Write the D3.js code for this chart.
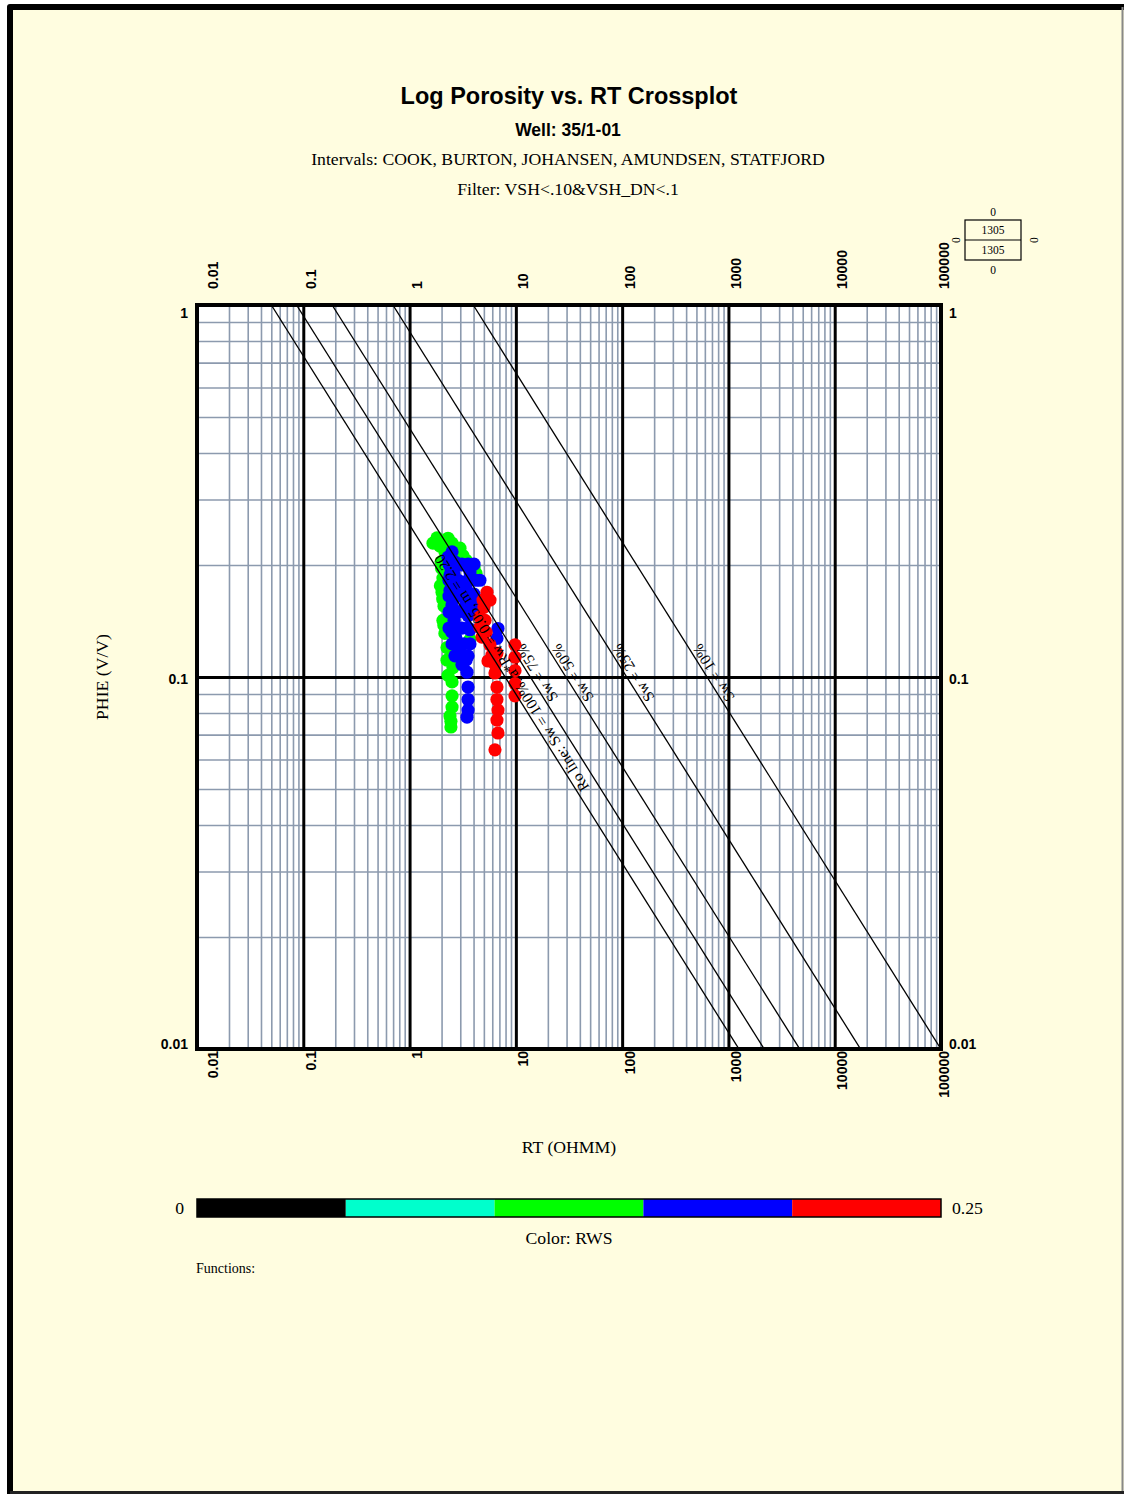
<!DOCTYPE html>
<html>
<head>
<meta charset="utf-8">
<script src="https://cdn.jsdelivr.net/npm/d3@7"></script>
<style>
  body { margin: 0; background: #fff; }
  svg { display: block; }
  .sans { font-family: "Liberation Sans", Arial, sans-serif; }
  .serif { font-family: "Liberation Serif", "Times New Roman", serif; }
</style>
</head>
<body>
<svg id="chart" width="1124" height="1494"></svg>
<script>
// ---- data ----
const xDecades = [0.01, 0.1, 1, 10, 100, 1000, 10000, 100000];
const yDecades = [0.01, 0.1, 1];
const xTickLabels = ["0.01", "0.1", "1", "10", "100", "1000", "10000", "100000"];
const yTickLabels = ["0.01", "0.1", "1"];

// Archie lines
const aRw = 0.05, mExp = 2.2, nExp = 1.9;
const swValues = [1.0, 0.75, 0.5, 0.25, 0.10];
const swLabels = ["Ro line: Sw = 100%, a*Rw = 0.05, m = 2.20", "Sw = 75%", "Sw = 50%", "Sw = 25%", "Sw = 10%"];

// colour bar (RWS)
const rwsBreaks = [0, 0.05, 0.10, 0.15, 0.20, 0.25];
const rwsColors = ["#000000", "#00FFCC", "#00FF00", "#0000FF", "#FF0000"];

// points, grouped by RWS colour class
const greenRWS = 0.12;
const greenRT = [1.66, 1.93, 2.30, 2.15, 2.73, 3.18, 3.70, 4.22, 1.98, 2.06, 2.02, 2.11, 2.06, 2.15, 2.25, 2.51, 2.56, 2.51, 2.51, 2.51, 2.40, 2.45, 2.45, 4.40, 4.40, 3.70, 1.80, 2.00,
  1.81, 2.51, 2.98, 3.40, 4.04, 2.25, 2.30, 1.95, 2.05, 2.10];
const greenPHIE = [0.229, 0.225, 0.236, 0.217, 0.218, 0.212, 0.200, 0.190, 0.204, 0.1845, 0.169, 0.155, 0.142, 0.131, 0.120, 0.111, 0.106, 0.097, 0.089, 0.083, 0.0785, 0.076, 0.0734, 0.161, 0.149, 0.126, 0.233, 0.196,
  0.2365, 0.229, 0.222, 0.206, 0.197, 0.111, 0.101, 0.176, 0.162, 0.138];

const blueRWS = 0.17;
const blueRT = [2.51, 2.67, 3.11, 3.70, 4.22, 2.40, 2.86, 3.40, 4.04, 2.40, 2.86, 3.40, 2.51, 2.98, 3.55, 2.62, 3.11, 3.70, 2.73, 3.25, 2.98, 3.40, 3.11, 3.47, 3.55, 3.55, 3.55, 3.47, 6.79, 6.64, 4.22, 4.12, 2.30, 2.45, 2.60, 2.95, 3.30, 2.50,
  2.35, 2.73, 3.11, 3.55, 4.04, 2.35, 3.55, 4.59, 2.35, 4.04, 2.35, 2.73, 3.55, 2.35, 2.73, 3.55, 2.51, 3.70, 2.67, 3.55];
const bluePHIE = [0.217, 0.204, 0.200, 0.1915, 0.182, 0.188, 0.182, 0.174, 0.167, 0.171, 0.165, 0.157, 0.156, 0.150, 0.146, 0.142, 0.1354, 0.134, 0.1273, 0.1227, 0.1168, 0.111, 0.108, 0.103, 0.094, 0.087, 0.0815, 0.078, 0.135, 0.127, 0.151, 0.161, 0.210, 0.196, 0.190, 0.176, 0.165, 0.132,
  0.201, 0.201, 0.201, 0.201, 0.201, 0.182, 0.182, 0.182, 0.165, 0.165, 0.1495, 0.1495, 0.1495, 0.1354, 0.1354, 0.1354, 0.1227, 0.1227, 0.114, 0.114];

const redRWS = 0.22;
const redRT = [5.35, 4.91, 5.01, 4.59, 4.59, 4.80, 5.71, 6.64, 5.47, 6.36, 6.36, 6.64, 6.64, 6.79, 6.64, 6.79, 6.36, 9.82, 9.82, 9.82, 9.82, 9.82,
  5.13, 5.71, 5.24, 5.96];
const redPHIE = [0.169, 0.161, 0.154, 0.145, 0.136, 0.128, 0.122, 0.116, 0.1104, 0.108, 0.1025, 0.094, 0.087, 0.0815, 0.0766, 0.0707, 0.0637, 0.122, 0.113, 0.104, 0.096, 0.089,
  0.142, 0.161, 0.132, 0.1145];

const legendTotal = "1305", legendShown = "1305";

// ---- layout ----
const W = 1124, H = 1494;
const plot = { left: 197, right: 941, top: 305, bottom: 1049 };
const serifSize = 17.7, tickSize = 14;
const svg = d3.select("#chart");

// page background and frame
svg.append("rect").attr("x", 0).attr("y", 0).attr("width", W).attr("height", H).attr("fill", "#fff");
svg.append("rect").attr("x", 10).attr("y", 7).attr("width", W - 10).attr("height", H - 7).attr("fill", "#FFFDE0");
svg.append("path").attr("d", `M10,${H} L10,7 L${W},7`).attr("fill", "none")
  .attr("stroke", "#000").attr("stroke-width", 6).attr("stroke-linejoin", "round");
svg.append("line").attr("x1", W - 1.5).attr("x2", W - 1.5).attr("y1", 7).attr("y2", H)
  .attr("stroke", "#888").attr("stroke-width", 2);
svg.append("line").attr("x1", 10).attr("x2", W).attr("y1", H - 1.5).attr("y2", H - 1.5)
  .attr("stroke", "#222").attr("stroke-width", 3);

// titles
svg.append("text").attr("class", "sans").attr("x", 569).attr("y", 104).attr("text-anchor", "middle")
  .attr("font-size", 23.5).attr("font-weight", "bold").text("Log Porosity vs. RT Crossplot");
svg.append("text").attr("class", "sans").attr("x", 568).attr("y", 136).attr("text-anchor", "middle")
  .attr("font-size", 17.5).attr("font-weight", "bold").text("Well: 35/1-01");
svg.append("text").attr("class", "serif").attr("x", 568).attr("y", 165).attr("text-anchor", "middle")
  .attr("font-size", serifSize).text("Intervals: COOK, BURTON, JOHANSEN, AMUNDSEN, STATFJORD");
svg.append("text").attr("class", "serif").attr("x", 568).attr("y", 195).attr("text-anchor", "middle")
  .attr("font-size", serifSize).text("Filter: VSH<.10&VSH_DN<.1");

// scales
const x = d3.scaleLog().domain([0.01, 100000]).range([plot.left, plot.right]);
const y = d3.scaleLog().domain([0.01, 1]).range([plot.bottom, plot.top]);

// plot background
svg.append("rect").attr("x", plot.left).attr("y", plot.top)
  .attr("width", plot.right - plot.left).attr("height", plot.bottom - plot.top).attr("fill", "#fff");

// minor grid values
const xMinor = [], yMinor = [];
xDecades.slice(0, -1).forEach(d => { for (let k = 2; k <= 9; k++) xMinor.push(d * k); });
yDecades.slice(0, -1).forEach(d => { for (let k = 2; k <= 9; k++) yMinor.push(d * k); });

const gridColor = "#8C9AAE";
svg.append("g").attr("transform", `translate(0,${plot.bottom})`)
  .call(d3.axisBottom(x).tickValues(xMinor).tickSize(-(plot.bottom - plot.top)).tickFormat(""))
  .call(g => g.select(".domain").remove())
  .call(g => g.selectAll("line").attr("stroke", gridColor).attr("stroke-width", 1.6));
svg.append("g").attr("transform", `translate(${plot.left},0)`)
  .call(d3.axisLeft(y).tickValues(yMinor).tickSize(-(plot.right - plot.left)).tickFormat(""))
  .call(g => g.select(".domain").remove())
  .call(g => g.selectAll("line").attr("stroke", gridColor).attr("stroke-width", 1.6));

// decade grid
svg.append("g").attr("transform", `translate(0,${plot.bottom})`)
  .call(d3.axisBottom(x).tickValues(xDecades).tickSize(-(plot.bottom - plot.top)).tickFormat(""))
  .call(g => g.select(".domain").remove())
  .call(g => g.selectAll("line").attr("stroke", "#000").attr("stroke-width", 3));
svg.append("g").attr("transform", `translate(${plot.left},0)`)
  .call(d3.axisLeft(y).tickValues(yDecades).tickSize(-(plot.right - plot.left)).tickFormat(""))
  .call(g => g.select(".domain").remove())
  .call(g => g.selectAll("line").attr("stroke", "#000").attr("stroke-width", 3));

svg.append("clipPath").attr("id", "plotClip").append("rect")
  .attr("x", plot.left).attr("y", plot.top)
  .attr("width", plot.right - plot.left).attr("height", plot.bottom - plot.top);

// points (under the Archie lines)
const color = d3.scaleThreshold().domain(rwsBreaks.slice(1, -1)).range(rwsColors);
const series = [
  { rws: greenRWS, rt: greenRT, phi: greenPHIE },
  { rws: blueRWS, rt: blueRT, phi: bluePHIE },
  { rws: redRWS, rt: redRT, phi: redPHIE }
];
const ptG = svg.append("g").attr("clip-path", "url(#plotClip)");
series.forEach(s => {
  ptG.append("g").selectAll("circle").data(s.rt.map((r, i) => [r, s.phi[i]])).join("circle")
    .attr("cx", d => x(d[0])).attr("cy", d => y(d[1])).attr("r", 6.6)
    .attr("fill", color(s.rws));
});

// Archie lines
const rtAt = (phi, sw) => aRw / (Math.pow(phi, mExp) * Math.pow(sw, nExp));
const lineG = svg.append("g").attr("clip-path", "url(#plotClip)");
lineG.selectAll("line.sw").data(swValues).join("line").attr("class", "sw")
  .attr("x1", d => x(rtAt(1, d))).attr("y1", y(1))
  .attr("x2", d => x(rtAt(0.001, d))).attr("y2", y(0.001))
  .attr("stroke", "#000").attr("stroke-width", 1.3);

const slopeAngle = Math.atan2(y(0.01) - y(1), x(rtAt(0.01, 1)) - x(rtAt(1, 1))) * 180 / Math.PI;
lineG.selectAll("text.swlab").data(swValues).join("text").attr("class", "swlab serif")
  .attr("transform", d => `translate(${x(rtAt(0.1, d))},${y(0.1)}) rotate(${slopeAngle + 180})`)
  .attr("text-anchor", "middle").attr("dy", 13).attr("font-size", 15.5)
  .text((d, i) => swLabels[i]);

// plot border
svg.append("rect").attr("x", plot.left).attr("y", plot.top)
  .attr("width", plot.right - plot.left).attr("height", plot.bottom - plot.top)
  .attr("fill", "none").attr("stroke", "#000").attr("stroke-width", 4);

// x tick labels (top and bottom), rotated
const xLabelShift = (d, i) => i === 0 ? 20 : (i === xDecades.length - 1 ? 7 : 12);
svg.append("g").attr("transform", `translate(0,${plot.top})`)
  .call(d3.axisTop(x).tickValues(xDecades).tickSize(0).tickFormat((d, i) => xTickLabels[i]))
  .call(g => g.select(".domain").remove())
  .call(g => g.selectAll("text").attr("class", "sans").attr("font-size", tickSize).attr("font-weight", "bold")
    .attr("fill", "#000").attr("x", 0).attr("y", 0).attr("dy", 0).attr("text-anchor", "start")
    .attr("transform", (d, i) => `translate(${xLabelShift(d, i)},-16) rotate(-90)`));
svg.append("g").attr("transform", `translate(0,${plot.bottom})`)
  .call(d3.axisBottom(x).tickValues(xDecades).tickSize(0).tickFormat((d, i) => xTickLabels[i]))
  .call(g => g.select(".domain").remove())
  .call(g => g.selectAll("text").attr("class", "sans").attr("font-size", tickSize).attr("font-weight", "bold")
    .attr("fill", "#000").attr("x", 0).attr("y", 0).attr("dy", 0).attr("text-anchor", "end")
    .attr("transform", (d, i) => `translate(${xLabelShift(d, i)},2) rotate(-90)`));

// y tick labels (left and right)
const yLabelShift = (d, i) => i === 0 ? -5 : (i === yDecades.length - 1 ? 8 : 2);
svg.append("g").attr("transform", `translate(${plot.left},0)`)
  .call(d3.axisLeft(y).tickValues(yDecades).tickSize(0).tickFormat((d, i) => yTickLabels[i]))
  .call(g => g.select(".domain").remove())
  .call(g => g.selectAll("text").attr("class", "sans").attr("font-size", tickSize).attr("font-weight", "bold")
    .attr("fill", "#000").attr("x", -9).attr("dy", "0.35em").attr("y", (d, i) => yLabelShift(d, i)));
svg.append("g").attr("transform", `translate(${plot.right},0)`)
  .call(d3.axisRight(y).tickValues(yDecades).tickSize(0).tickFormat((d, i) => yTickLabels[i]))
  .call(g => g.select(".domain").remove())
  .call(g => g.selectAll("text").attr("class", "sans").attr("font-size", tickSize).attr("font-weight", "bold")
    .attr("fill", "#000").attr("x", 8).attr("dy", "0.35em").attr("y", (d, i) => yLabelShift(d, i)));

// axis titles
svg.append("text").attr("class", "serif").attr("font-size", serifSize)
  .attr("transform", `translate(108,${(plot.top + plot.bottom) / 2}) rotate(-90)`)
  .attr("text-anchor", "middle").text("PHIE (V/V)");
svg.append("text").attr("class", "serif").attr("font-size", serifSize)
  .attr("x", (plot.left + plot.right) / 2).attr("y", 1153).attr("text-anchor", "middle").text("RT (OHMM)");

// colour bar
const cb = d3.scaleLinear().domain([0, 0.25]).range([plot.left, plot.right]);
const cbY = 1199, cbH = 18;
svg.append("g").selectAll("rect").data(rwsColors).join("rect")
  .attr("x", (d, i) => cb(rwsBreaks[i])).attr("y", cbY)
  .attr("width", (d, i) => cb(rwsBreaks[i + 1]) - cb(rwsBreaks[i])).attr("height", cbH)
  .attr("fill", d => d);
svg.append("rect").attr("x", plot.left).attr("y", cbY).attr("width", plot.right - plot.left).attr("height", cbH)
  .attr("fill", "none").attr("stroke", "#000").attr("stroke-width", 1.5);
svg.append("text").attr("class", "serif").attr("font-size", serifSize).attr("x", 184).attr("y", cbY + 15)
  .attr("text-anchor", "end").text("0");
svg.append("text").attr("class", "serif").attr("font-size", serifSize).attr("x", 952).attr("y", cbY + 15)
  .text("0.25");
svg.append("text").attr("class", "serif").attr("font-size", serifSize).attr("x", (plot.left + plot.right) / 2)
  .attr("y", 1244).attr("text-anchor", "middle").text("Color: RWS");
svg.append("text").attr("class", "serif").attr("font-size", 14).attr("x", 196).attr("y", 1273)
  .text("Functions:");

// point count box
const lg = svg.append("g").attr("class", "serif").attr("font-size", 11.5);
lg.append("rect").attr("x", 965).attr("y", 220).attr("width", 56).attr("height", 40)
  .attr("fill", "none").attr("stroke", "#000").attr("stroke-width", 1.2);
lg.append("line").attr("x1", 965).attr("x2", 1021).attr("y1", 240).attr("y2", 240)
  .attr("stroke", "#000").attr("stroke-width", 1.2);
lg.append("text").attr("x", 993).attr("y", 234).attr("text-anchor", "middle").text(legendTotal);
lg.append("text").attr("x", 993).attr("y", 254).attr("text-anchor", "middle").text(legendShown);
lg.append("text").attr("x", 993).attr("y", 216).attr("text-anchor", "middle").text("0");
lg.append("text").attr("x", 993).attr("y", 274).attr("text-anchor", "middle").text("0");
lg.append("text").attr("transform", "translate(952,240) rotate(90)").attr("text-anchor", "middle").text("0");
lg.append("text").attr("transform", "translate(1030,240) rotate(90)").attr("text-anchor", "middle").text("0");
</script>
</body>
</html>
